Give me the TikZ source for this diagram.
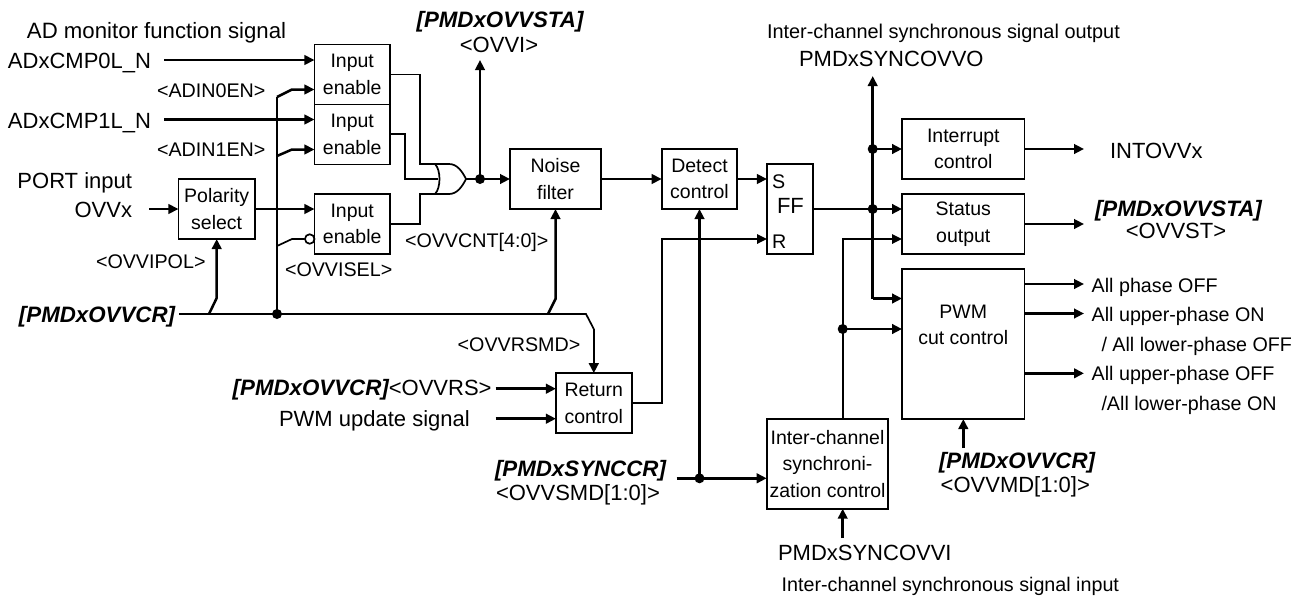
\documentclass[tikz,border=0pt]{standalone}
\usepackage{fontspec}
\setmainfont{Liberation Sans}
\usetikzlibrary{arrows.meta,calc}
\tikzset{
  box/.style={draw,line width=1.8pt,inner sep=0pt,outer sep=0pt,align=center,font=\fontsize{19.5}{26.5}\selectfont},
  thin wire/.style={line width=1.7pt},
  wire/.style={line width=2.5pt},
  arr/.style={wire,-{Triangle[length=10pt,width=9.5pt]}},
  tarr/.style={thin wire,-{Triangle[length=10pt,width=9.5pt]}},
  dotmark/.style={circle,fill=black,inner sep=0pt,minimum size=10pt},
  lg/.style={inner sep=0pt,outer sep=0pt,font=\fontsize{22}{26}\selectfont},
  sm/.style={inner sep=0pt,outer sep=0pt,font=\fontsize{19.7}{24}\selectfont},
  bi/.style={inner sep=0pt,outer sep=0pt,font=\fontsize{22.3}{26}\selectfont\bfseries\itshape},
}
\begin{document}
\begin{tikzpicture}[x=1pt,y=-1pt]
\useasboundingbox (0,0) rectangle (1293,595);
% boxes
\node[box,minimum width=75.5pt,minimum height=60pt] (ie1) at (352.2,74.5) {Input\\enable};
\node[box,minimum width=75.5pt,minimum height=60pt] (ie2) at (352.2,134.5) {Input\\enable};
\node[box,minimum width=75.5pt,minimum height=60pt] (ie3) at (352.2,224) {Input\\enable};
\node[box,minimum width=76.5pt,minimum height=60pt] (pol) at (216.7,209) {Polarity\\select};
\node[box,minimum width=91pt,minimum height=60pt] (noise) at (555.5,179) {Noise\\filter};
\node[box,minimum width=75.6pt,minimum height=60pt] (det) at (699.5,179) {Detect\\control};
\node[draw,line width=1.8pt,minimum width=45.7pt,minimum height=90pt,inner sep=0pt,outer sep=0pt] (ff) at (789.8,209) {};
\node[box,minimum width=75.7pt,minimum height=60pt] (ret) at (593.8,403.2) {Return\\control};
\node[box,minimum width=121.6pt,minimum height=90pt] (sync) at (827.5,463.7) {Inter-channel\\synchroni-\\zation control};
\node[box,minimum width=122.5pt,minimum height=60pt] (intr) at (963.3,149) {Interrupt\\control};
\node[box,minimum width=122.5pt,minimum height=60pt] (stat) at (963.3,224) {Status\\output};
\node[box,minimum width=122.5pt,minimum height=150pt] (pwm) at (963.3,344) {PWM\\cut control\\[12pt]\mbox{}};
% FF letters
\node[sm,anchor=base west] (fs) at (772,188) {S};
\node[lg,anchor=base west] (ffl) at (777,213) {FF};
\node[sm,anchor=base west] (fr) at (772,248) {R};
% labels
\node[lg,font=\fontsize{22.2}{26}\selectfont,anchor=base west] (tad) at (27,38) {AD monitor function signal};
\node[lg,anchor=base west] (tc0) at (8,68) {ADxCMP0L\_N};
\node[lg,anchor=base west] (tc1) at (8,128) {ADxCMP1L\_N};
\node[sm,anchor=base west] (ta0) at (157,97) {<ADIN0EN>};
\node[sm,anchor=base west] (ta1) at (157,156) {<ADIN1EN>};
\node[lg,anchor=base east] (tport) at (132,188) {PORT input};
\node[lg,anchor=base east] (tovv) at (132,217) {OVVx};
\node[sm,anchor=base west] (tpol) at (96,268) {<OVVIPOL>};
\node[sm,anchor=base west] (tsel) at (285,276) {<OVVISEL>};
\node[bi,anchor=base west] (tcr) at (19,322) {[PMDxOVVCR]};
\node[sm,anchor=base west] (tcnt) at (405,247) {<OVVCNT[4:0]>};
\node[bi,anchor=base] (tsta) at (500,27) {[PMDxOVVSTA]};
\node[lg,anchor=base] (tovvi) at (499,52) {<OVVI>};
\node[sm,anchor=base west] (trsmd) at (457.7,351) {<OVVRSMD>};
\node[anchor=base west,inner sep=0pt,outer sep=0pt] (trs) at (232.7,395.7) {\fontsize{22.3}{26}\selectfont\bfseries\itshape [PMDxOVVCR]\fontsize{22}{26}\selectfont\mdseries\upshape <OVVRS>};
\node[lg,anchor=base west] (tupd) at (279,426) {PWM update signal};
\node[bi,anchor=base west] (tsc) at (495,476.7) {[PMDxSYNCCR]};
\node[lg,anchor=base west] (tsmd) at (496,500) {<OVVSMD[1:0]>};
\node[sm,font=\fontsize{19.9}{24}\selectfont,anchor=base west] (toutt) at (767,38) {Inter-channel synchronous signal output};
\node[lg,anchor=base west] (tsyo) at (799,66) {PMDxSYNCOVVO};
\node[lg,anchor=base west] (tint) at (1110,158) {INTOVVx};
\node[bi,anchor=base west] (tst2) at (1095,216) {[PMDxOVVSTA]};
\node[lg,anchor=base] (tvst) at (1176,238) {<OVVST>};
\node[sm,anchor=base west] (o1) at (1091.7,292.7) {All phase OFF};
\node[sm,anchor=base west] (o2) at (1091.7,321.7) {All upper-phase ON};
\node[sm,anchor=base west] (o3) at (1101.5,351.7) {/ All lower-phase OFF};
\node[sm,anchor=base west] (o4) at (1091.7,380.7) {All upper-phase OFF};
\node[sm,anchor=base west] (o5) at (1101.5,410.7) {/All lower-phase ON};
\node[bi,anchor=base west] (tcr3) at (939,468) {[PMDxOVVCR]};
\node[lg,anchor=base west] (tmd) at (940.7,492) {<OVVMD[1:0]>};
\node[lg,anchor=base west] (tsyi) at (778,560.7) {PMDxSYNCOVVI};
\node[sm,anchor=base west] (tint2) at (781.7,591.7) {Inter-channel synchronous signal input};
% free ends and junctions
\coordinate (c0) at (164,60);
\coordinate (c1) at (164,119.5);
\coordinate (povv) at (149,209);
\coordinate (cr) at (179,314);
\coordinate (crj) at (277,314);
\coordinate (rs) at (495.7,388.7);
\coordinate (upd) at (495.7,418.7);
\coordinate (scs) at (676.7,478.3);
\coordinate (scj) at (699.5,478.3);
\coordinate (ffj) at (872.7,209);
\coordinate (intj) at (872.7,149);
\coordinate (pwmj) at (842.7,329);
\coordinate (orA) at (435,164);
\coordinate (orB) at (438,179);
\coordinate (orC) at (435,194);
\coordinate (orO) at (466,179);
\coordinate (orj) at (480,179);
\coordinate (syi) at (842.7,538);
\coordinate (mdi) at (963.3,448);
% OR gate
\draw[thin wire] (orA) -- (449,164) .. controls (457,164) and (462,171) .. (orO) .. controls (462,187) and (457,194) .. (449,194) -- (orC);
\draw[thin wire] (orA) .. controls (441,170) and (441,188) .. (orC);
% thin wires
\draw[thin wire] (ie1.east |- 0,74.5) -- (420,74.5) -- (420,164) -- (orA);
\draw[thin wire] (ie2.east |- 0,134) -- (405,134) -- (405,179) -- (orB);
\draw[thin wire] (ie3.east |- 0,224) -- (420,224) -- (420,194) -- (orC);
\draw[tarr] (ret.east |- 0,403) -- (661.7,403) -- (661.7,239) -- (767,239);
\draw[tarr] (sync.north -| pwmj) -- (842.7,239) -- (902,239);
\draw[thin wire] (277,246) -- (292,239) -- (304.5,239);
\node[draw,fill=white,circle,line width=1.7pt,minimum size=9.5pt,inner sep=0pt,anchor=east,outer sep=0pt] (inv) at (ie3.west |- 0,239) {};
% main bus
\draw[thin wire] (cr) -- (586,314) -- (593.8,329);
\draw[wire] (crj) -- (277,97);
\draw[arr] (277,97) -- (292,89.5) -- (292,89.5 -| ie1.west);
\draw[arr] (277,156) -- (292,149.5) -- (292,149.5 -| ie2.west);
\draw[arr] (209,314) -- (216.7,298) -- (pol.south);
\draw[arr] (548,314) -- (555.5,299) -- (noise.south);
\draw[arr] (593.8,329) -- (ret.north);
% thick arrows
\draw[arr] (c0) -- (c0 -| ie1.west);
\draw[arr] (c1) -- (c1 -| ie2.west);
\draw[arr] (povv) -- (povv -| pol.west);
\draw[arr] (pol.east) -- (pol.east -| ie3.west);
\draw[arr] (orO) -- (orO -| noise.west);
\draw[arr] (orj) -- (480,60);
\draw[arr] (noise.east) -- (noise.east -| det.west);
\draw[arr] (det.east) -- (det.east -| ff.west);
\draw[arr] (rs) -- (rs -| ret.west);
\draw[arr] (upd) -- (upd -| ret.west);
\draw[arr] (scs) -- (scs -| sync.west);
\draw[arr] (scj) -- (det.south);
\draw[wire] (ff.east) -- (ffj);
\draw[arr] (ffj) -- (ffj -| stat.west);
\draw[arr] (intj) -- (intj -| intr.west);
\draw[arr] (872.7,298.5) -- (872.7,298.5 -| pwm.west);
\draw[wire] (872.7,298.5) -- (ffj);
\draw[arr] (ffj) -- (872.7,76);
\draw[arr] (pwmj) -- (pwmj -| pwm.west);
\draw[arr] (intr.east) -- (1084,149);
\draw[arr] (stat.east) -- (1084,224);
\draw[arr] (pwm.east |- 0,284) -- (1084,284);
\draw[arr] (pwm.east |- 0,313.5) -- (1084,313.5);
\draw[arr] (pwm.east |- 0,373.3) -- (1084,373.3);
\draw[arr] (syi) -- (syi |- sync.south);
\draw[arr] (mdi) -- (pwm.south);
% junction dots
\foreach \j in {crj,scj,ffj,intj,pwmj,orj} \node[dotmark] at (\j) {};
\end{tikzpicture}
\end{document}
